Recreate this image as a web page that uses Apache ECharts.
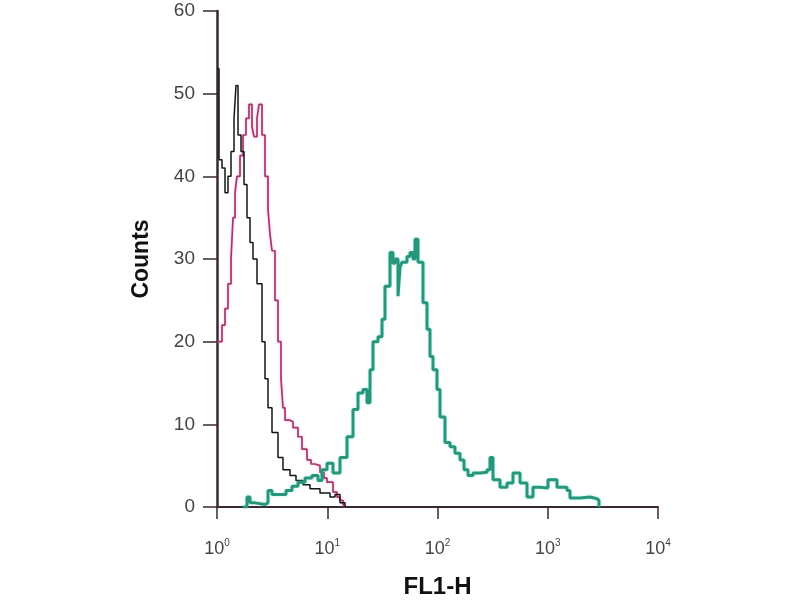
<!DOCTYPE html>
<html>
<head>
<meta charset="utf-8">
<script src="https://cdn.jsdelivr.net/npm/echarts@6/dist/echarts.min.js"></script>
<style>html,body{margin:0;padding:0;background:#fff;}#chart{width:800px;height:600px;}</style>
</head>
<body>
<div id="chart"></div>
<script>
// FL1-H channel values (x) and counts (y)
var blackX = [1.00,1.043,1.110,1.182,1.258,1.340,1.427,1.487,1.551,1.651,1.758,1.871,1.992,2.121,2.306,2.560,2.725,2.902,3.154,3.575,3.968,4.595,5.207,6.026,6.975,8.596,10.59,11.76,13.05,14.49];
var blackY = [53,42,41,38,40,43,47,51,45,43,39,35,32,30,27,20,15.5,12,9,6,4.5,3.8,3.2,2.7,2.2,1.7,1.2,1.5,0.5,0];

var magentaX = [1.00,1.043,1.110,1.182,1.258,1.340,1.397,1.457,1.518,1.617,1.721,1.833,1.951,2.078,2.166,2.306,2.404,2.560,2.725,2.902,3.025,3.154,3.358,3.575,3.806,3.968,4.138,4.595,4.891,5.429,5.902,6.552,7.122,7.743,8.596,9.344,9.948,11.28,12.26,13.05,13.90,14.49];
var magentaY = [20,20,22,24,27,30,35,38,40,42.5,45,47,48.7,46,44.8,47,48.7,45,40,36,33,31,25,20,15.5,12,10.5,10.3,9.6,8.5,7,5.7,5.2,5,4.2,3.5,3,1.8,1.2,0.8,0.3,0];

var tealX = [1.721,1.871,1.992,2.212,2.725,2.902,3.154,3.728,4.226,4.790,5.429,6.284,7.272,8.244,8.963,9.948,11.28,13.05,15.11,17.13,19.01,21.11,22.94,24.43,26.00,28.86,31.38,33.40,37.09,39.48,41.18,43.84,45.71,47.65,52.90,56.31,59.95,62.51,66.56,73.87,80.34,85.51,91.03,98.97,105.4,116.9,129.8,144.1,160.0,174.0,189.1,209.9,243.0,281.2,299.4,318.7,368.9,427.0,484.0,560.2,648.3,734.9,850.6,1005,1213,1495,1591,1961,2417,2797,2917];
var tealY = [0,1.2,0.5,0.3,0.5,2,1.5,1.5,2,2.5,3,3.5,3.8,3.2,4.5,5.3,4.1,6,8.5,11.8,13.8,14.2,12.6,16.6,20,20.6,22.7,26.7,30.8,29.5,30,25.5,29,29.6,30.3,30.8,30,32.4,29.6,24.7,21.5,18.2,16.6,14.2,10.9,7.8,7.3,6.5,5.7,4.5,3.8,4.1,4.2,4.5,6,3.3,2.4,2.9,4.1,2.9,1.2,2.4,2.3,3.3,2.4,2,1.1,1.2,1.0,0.8,0];

var xTickExponents = [0,1,2,3,4];
var yTicks = [0,10,20,30,40,50,60];

function pairs(xs, ys){ return xs.map(function(x,i){ return [x, ys[i]]; }); }

var chart = echarts.init(document.getElementById('chart'), null, {renderer:'canvas'});
var axisColor = '#3a2733';
var font = 'Liberation Sans, Arial, sans-serif';
chart.setOption({
  backgroundColor:'#ffffff',
  animation:false,
  grid:{left:217, top:11, right:142, bottom:93, containLabel:false, outerBoundsMode:'none'},
  xAxis:{
    type:'log', logBase:10,
    min:Math.pow(10, xTickExponents[0]), max:Math.pow(10, xTickExponents[xTickExponents.length-1]),
    name:'FL1-H', nameLocation:'middle', nameGap:68,
    nameTextStyle:{fontFamily:font, fontWeight:'bold', fontSize:24, color:'#111'},
    axisLine:{show:true, lineStyle:{color:axisColor, width:2}},
    axisTick:{show:true, inside:false, length:12, lineStyle:{color:axisColor, width:1.5}},
    minorTick:{show:false},
    splitLine:{show:false},
    axisLabel:{
      margin:31,
      formatter:function(v){
        var e = Math.round(Math.log(v)/Math.LN10);
        return '{b|10}{s|' + e + '}';
      },
      rich:{
        b:{fontFamily:font, fontSize:18, color:'#444', lineHeight:20, verticalAlign:'bottom'},
        s:{fontFamily:font, fontSize:10, color:'#444', lineHeight:20, verticalAlign:'top'}
      }
    }
  },
  yAxis:{
    type:'value', min:yTicks[0], max:yTicks[yTicks.length-1], interval:10,
    name:'Counts', nameLocation:'middle', nameGap:64, nameRotate:90,
    nameTextStyle:{fontFamily:font, fontWeight:'bold', fontSize:23, color:'#111'},
    axisLine:{show:true, lineStyle:{color:axisColor, width:2.5}},
    axisTick:{show:true, inside:false, length:14, lineStyle:{color:axisColor, width:1.5}},
    splitLine:{show:false},
    axisLabel:{margin:22, fontFamily:font, fontSize:19, color:'#444'}
  },
  series:[
    {type:'line', step:'end', data:pairs(magentaX, magentaY), symbol:'none',
     lineStyle:{color:'#a8346c', width:1.7, shadowColor:'rgba(230,120,180,0.5)', shadowBlur:3}},
    {type:'line', step:'end', data:pairs(blackX, blackY), symbol:'none',
     lineStyle:{color:'#151515', width:1.5}},
    {type:'line', step:'end', data:pairs(tealX, tealY), symbol:'none',
     lineStyle:{color:'#27977c', width:3, shadowColor:'rgba(80,220,200,0.4)', shadowBlur:3}}
  ]
});
</script>
</body>
</html>
